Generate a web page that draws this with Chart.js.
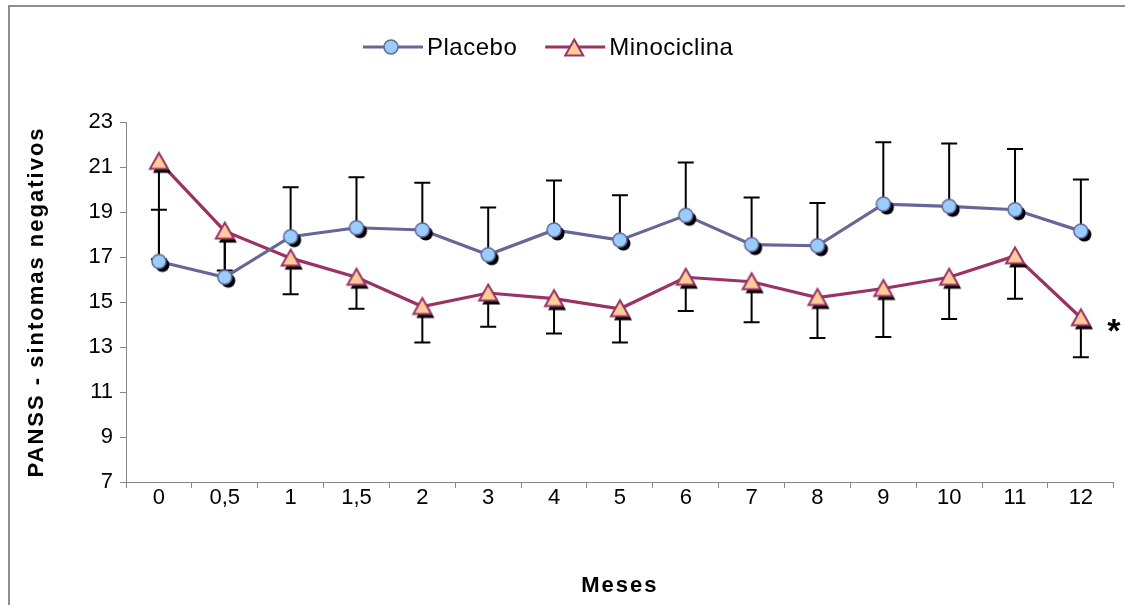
<!DOCTYPE html>
<html><head><meta charset="utf-8">
<script src="https://cdn.jsdelivr.net/npm/chart.js@4.4.0/dist/chart.umd.min.js"></script>
<style>
html,body{margin:0;padding:0;background:#fff;}
#wrap{position:relative;width:1125px;height:605px;overflow:hidden;background:#fff;}
#frame{position:absolute;left:8px;top:5px;width:1300px;height:800px;border-top:2px solid #8e8e8e;border-left:2px solid #8e8e8e;pointer-events:none;}
canvas{position:absolute;left:0;top:0;}
</style></head><body>
<div id="wrap"><canvas id="c" width="1125" height="605"></canvas><div id="frame"></div></div>
<script>
// ---- data ----
const categories = ['0','0,5','1','1,5','2','3','4','5','6','7','8','9','10','11','12'];
const placebo      = [16.8, 16.1, 17.9, 18.3, 18.2, 17.1, 18.2, 17.75, 18.85, 17.55, 17.5, 19.35, 19.25, 19.1, 18.15];
const placeboUpper = [19.1, 17.9, 20.1, 20.55, 20.3, 19.2, 20.4, 19.75, 21.2, 19.65, 19.4, 22.1, 22.05, 21.8, 20.45];
const minociclina      = [21.25, 18.15, 16.95, 16.1, 14.8, 15.4, 15.15, 14.7, 16.1, 15.9, 15.2, 15.6, 16.1, 17.05, 14.3];
const minociclinaLower = [16.9, 16.4, 15.35, 14.7, 13.2, 13.9, 13.6, 13.2, 14.6, 14.1, 13.4, 13.45, 14.25, 15.15, 12.55];
const yTicks = {min: 7, max: 23, step: 2};
const seriesNames = ['Placebo', 'Minociclina'];
const significance = '*';

const FONT = "'Liberation Sans', Arial, sans-serif";
const C_PL_LINE = '#666699', C_PL_FILL = '#99CCFF';
const C_MI_LINE = '#993366', C_MI_FILL = '#FFCC99';

function drawCircle(g, x, y, fill, stroke){
  g.beginPath(); g.arc(x, y, 7, 0, Math.PI*2);
  g.fillStyle = fill; g.fill();
  if (stroke){ g.lineWidth = 1.5; g.strokeStyle = stroke; g.stroke(); }
}
function drawTri(g, x, y, fill, stroke){
  g.beginPath(); g.moveTo(x, y-8.5); g.lineTo(x+9, y+7.5); g.lineTo(x-9, y+7.5); g.closePath();
  g.fillStyle = fill; g.fill();
  if (stroke){ g.lineWidth = 2; g.lineJoin='miter'; g.strokeStyle = stroke; g.stroke(); }
}
function makeMarker(kind){
  const s = 34, c = document.createElement('canvas'); c.width = s; c.height = s;
  const g = c.getContext('2d'); const m = s/2;
  if (kind === 'circle'){ drawCircle(g, m+3.5, m+3.5, '#000'); drawCircle(g, m, m, C_PL_FILL, C_PL_LINE); }
  else { drawTri(g, m+3, m+4, '#000'); drawTri(g, m, m, C_MI_FILL, C_MI_LINE); }
  return c;
}

const errorBars = {
  id: 'errorBars',
  beforeDatasetsDraw(chart){
    const {ctx, scales:{x, y}} = chart;
    ctx.save(); ctx.strokeStyle = '#000'; ctx.lineWidth = 2;
    const seg = (xp, v0, v1) => {
      const y0 = y.getPixelForValue(v0), y1 = y.getPixelForValue(v1);
      ctx.beginPath(); ctx.moveTo(xp, y0); ctx.lineTo(xp, y1);
      ctx.moveTo(xp-8, y1); ctx.lineTo(xp+8, y1); ctx.stroke();
    };
    categories.forEach((c, i) => {
      const xp = x.getPixelForValue(i);
      seg(xp, placebo[i], placeboUpper[i]);
      seg(xp, minociclina[i], minociclinaLower[i]);
    });
    ctx.restore();
  }
};

const customLegend = {
  id: 'customLegend',
  afterDraw(chart){
    const ctx = chart.ctx; ctx.save();
    ctx.font = '24px ' + FONT; ctx.letterSpacing = '0.5px';
    ctx.textBaseline = 'middle'; ctx.fillStyle = '#000';
    const yL = 47; let xs = 363;
    const items = [[seriesNames[0], C_PL_LINE, C_PL_FILL, 'circle'], [seriesNames[1], C_MI_LINE, C_MI_FILL, 'tri']];
    items.forEach(([name, line, fill, kind]) => {
      ctx.strokeStyle = line; ctx.lineWidth = 3;
      ctx.beginPath(); ctx.moveTo(xs, yL); ctx.lineTo(xs+60, yL); ctx.stroke();
      if (kind === 'circle') drawCircle(ctx, xs+28, yL, fill, line); else drawTri(ctx, xs+29, yL+1, fill, line);
      ctx.fillStyle = '#000'; ctx.fillText(name, xs+64, yL+1);
      xs += 64 + ctx.measureText(name).width + 28;
    });
    // significance marker next to last Minociclina point
    const meta = chart.getDatasetMeta(1); const p = meta.data[meta.data.length-1];
    ctx.letterSpacing = '0px';
    ctx.font = 'bold 34px ' + FONT; ctx.textAlign = 'center'; ctx.textBaseline = 'alphabetic';
    ctx.fillText(significance, p.x + 33, p.y + 24);
    ctx.restore();
  }
};

const titleSpacing = {
  id: 'titleSpacing',
  afterLayout(chart){
    ['x','y'].forEach(id => {
      const s = chart.scales[id];
      if (s && !s._spWrapped){
        const orig = s.drawTitle.bind(s);
        s.drawTitle = function(){ const c = this.ctx; c.save(); c.letterSpacing = '2px'; orig(); c.restore(); };
        s._spWrapped = true;
      }
    });
  }
};

new Chart(document.getElementById('c'), {
  type: 'line',
  data: {
    labels: categories,
    datasets: [
      {label: seriesNames[0], data: placebo, borderColor: C_PL_LINE, borderWidth: 3.2, pointStyle: makeMarker('circle'), pointRadius: 7, tension: 0, fill: false},
      {label: seriesNames[1], data: minociclina, borderColor: C_MI_LINE, borderWidth: 3.2, pointStyle: makeMarker('tri'), pointRadius: 8, tension: 0, fill: false}
    ]
  },
  options: {
    responsive: false, animation: false, devicePixelRatio: 1, events: [],
    layout: {padding: {top: 122, right: 11, left: 0, bottom: 0}},
    plugins: {legend: {display: false}, tooltip: {enabled: false}},
    scales: {
      x: {
        type: 'category', offset: true,
        grid: {offset: true, drawOnChartArea: false, drawTicks: true, tickLength: 6, color: '#868686'},
        border: {color: '#868686', width: 1},
        ticks: {color: '#000', font: {family: FONT, size: 22}, padding: -3, maxRotation: 0, autoSkip: false},
        title: {display: true, text: 'Meses', color: '#000', font: {family: FONT, size: 22, weight: 'bold'}, padding: {top: 0, bottom: 6}},
        afterFit(s){ s.height = 123; }
      },
      y: {
        min: yTicks.min, max: yTicks.max,
        grid: {drawOnChartArea: false, drawTicks: true, tickLength: 6, color: '#868686'},
        border: {color: '#868686', width: 1},
        ticks: {stepSize: yTicks.step, color: '#000', font: {family: FONT, size: 22}, padding: 7},
        title: {display: true, text: 'PANSS - sintomas negativos', color: '#000', font: {family: FONT, size: 22, weight: 'bold'}, padding: {top: 24, bottom: 0}},
        afterFit(s){ s.width = 126; }
      }
    }
  },
  plugins: [errorBars, customLegend, titleSpacing]
});
</script>
</body></html>
